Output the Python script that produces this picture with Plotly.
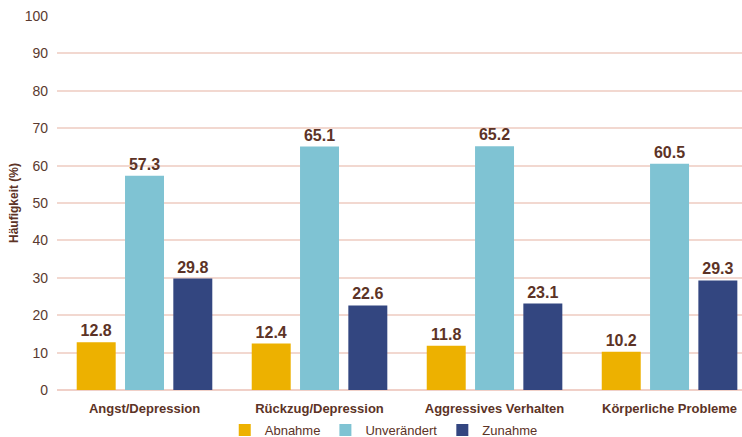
import plotly.graph_objects as go

categories = ["Angst/Depression", "Rückzug/Depression", "Aggressives Verhalten", "Körperliche Probleme"]
abnahme = [12.8, 12.4, 11.8, 10.2]
unveraendert = [57.3, 65.1, 65.2, 60.5]
zunahme = [29.8, 22.6, 23.1, 29.3]
y_ticks = [0, 10, 20, 30, 40, 50, 60, 70, 80, 90, 100]

FONT = "Liberation Sans, Arial, sans-serif"
TXT = "#5C3326"

series = [
    ("Abnahme", abnahme, "#EDB100"),
    ("Unverändert", unveraendert, "#7FC3D3"),
    ("Zunahme", zunahme, "#334680"),
]

fig = go.Figure()
for name, vals, col in series:
    fig.add_trace(go.Bar(
        name=name, x=categories, y=vals,
        marker=dict(color=col, line=dict(width=0)),
        text=[f"{v:.1f}" for v in vals], textposition="outside",
        textfont=dict(family=FONT, size=16, color=TXT, weight="bold"),
        cliponaxis=False,
    ))

fig.update_layout(
    width=742, height=437,
    margin=dict(l=57, r=0, t=16, b=47, autoexpand=False),
    paper_bgcolor="white", plot_bgcolor="white",
    barmode="group", bargap=0.172, bargroupgap=0.193,
    font=dict(family=FONT, color=TXT),
    showlegend=True,
    legend=dict(orientation="h", x=0.477, xanchor="center",
                y=-0.107, yanchor="middle", bgcolor="rgba(0,0,0,0)",
                font=dict(size=13, color=TXT), itemwidth=30, tracegroupgap=0,
                traceorder="normal"),
    xaxis=dict(range=[-0.5, 3.414], showgrid=False, showline=False, ticks="",
               ticklabelstandoff=9, automargin=False,
               tickfont=dict(family=FONT, size=13, color=TXT, weight="bold")),
    yaxis=dict(range=[0, 100], tickvals=y_ticks, showgrid=True, gridcolor="#F2D8D0",
               gridwidth=1.5, zeroline=True, zerolinecolor="#F0D0C8", zerolinewidth=2,
               showline=False, ticks="", ticklen=0, ticklabelstandoff=8, automargin=False,
               tickfont=dict(family=FONT, size=14, color="#5A3A30"),
               title=dict(text="Häufigkeit (%)", standoff=3,
                          font=dict(family=FONT, size=12, color=TXT, weight="bold"))),
)

fig.write_html("out.html")
